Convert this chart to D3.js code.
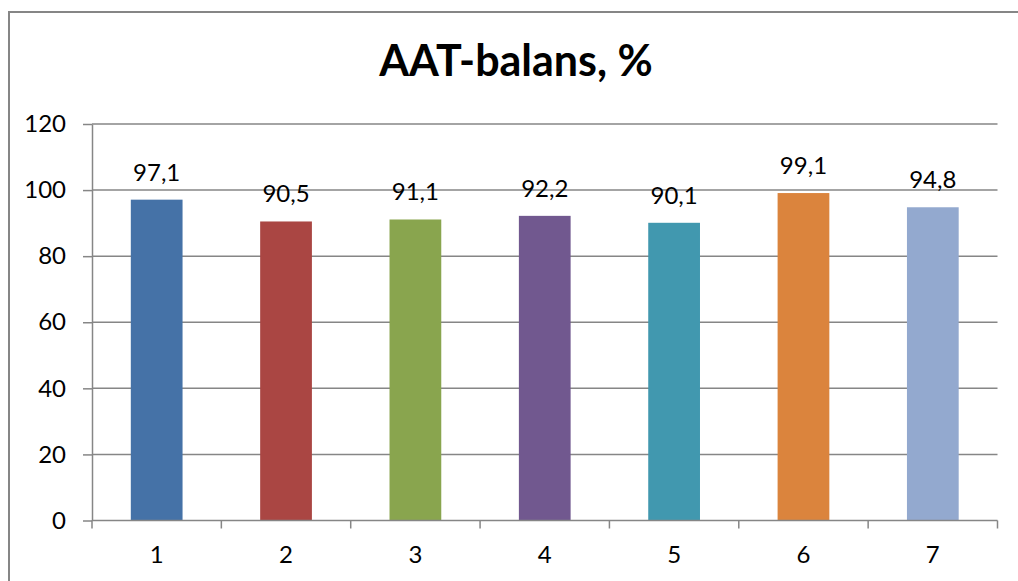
<!DOCTYPE html>
<html>
<head>
<meta charset="utf-8">
<script src="https://cdn.jsdelivr.net/npm/d3@7"></script>
<style>
  html, body { margin: 0; padding: 0; background: #fff; }
  svg { display: block; font-family: Lato, "Noto Sans", sans-serif; }
</style>
</head>
<body>
<svg id="chart" width="1018" height="581"></svg>
<script>
// Category labels, values and bar colours
const categories = ["1", "2", "3", "4", "5", "6", "7"];
const values = [97.1, 90.5, 91.1, 92.2, 90.1, 99.1, 94.8];
const valueLabels = ["97,1", "90,5", "91,1", "92,2", "90,1", "99,1", "94,8"];
const colors = ["#4572A7", "#AA4643", "#89A54E", "#71588F", "#4198AF", "#DB843D", "#93A9CF"];
const yTicks = [0, 20, 40, 60, 80, 100, 120];
const title = "AAT-balans, %";

const svg = d3.select("#chart");
const gridColor = "#868686";
const labelSize = 24;

// Outer chart frame
svg.append("rect")
  .attr("x", 9).attr("y", 12)
  .attr("width", 1030).attr("height", 600)
  .attr("fill", "none")
  .attr("stroke", gridColor)
  .attr("stroke-width", 2);

const plot = { left: 92, right: 997.5, top: 124, bottom: 520.5 };

const x = d3.scaleBand()
  .domain(categories)
  .range([plot.left, plot.right])
  .paddingInner(0.6)
  .paddingOuter(0.3);

const y = d3.scaleLinear()
  .domain([0, 120])
  .range([plot.bottom, plot.top]);

// Title
svg.append("text")
  .attr("x", 516).attr("y", 76)
  .attr("text-anchor", "middle")
  .attr("font-weight", "bold")
  .attr("font-size", 43)
  .attr("fill", "#000")
  .text(title);

// Horizontal gridlines
svg.append("g")
  .selectAll("line")
  .data(yTicks.filter(d => d > 0))
  .join("line")
  .attr("x1", plot.left).attr("x2", plot.right)
  .attr("y1", d => y(d)).attr("y2", d => y(d))
  .attr("stroke", gridColor)
  .attr("stroke-width", 1.5);

// Y axis
const yAxis = svg.append("g")
  .attr("transform", `translate(${plot.left},0)`)
  .call(d3.axisLeft(y).tickValues(yTicks).tickSize(9).tickPadding(17).tickSizeOuter(0));
yAxis.select(".domain").attr("stroke", gridColor).attr("stroke-width", 1.5);
yAxis.selectAll(".tick line").attr("stroke", gridColor).attr("stroke-width", 1.5);
yAxis.selectAll(".tick text")
  .attr("font-size", labelSize)
  .attr("font-family", "Lato, 'Noto Sans', sans-serif")
  .attr("fill", "#000");

// Bars
svg.append("g")
  .selectAll("rect")
  .data(values)
  .join("rect")
  .attr("x", (d, i) => x(categories[i]))
  .attr("y", d => y(d))
  .attr("width", x.bandwidth())
  .attr("height", d => y(0) - y(d))
  .attr("fill", (d, i) => colors[i]);

// Value labels above the bars
svg.append("g")
  .selectAll("text")
  .data(values)
  .join("text")
  .attr("x", (d, i) => x(categories[i]) + x.bandwidth() / 2)
  .attr("y", d => y(d) - 19)
  .attr("text-anchor", "middle")
  .attr("font-size", labelSize)
  .attr("fill", "#000")
  .text((d, i) => valueLabels[i]);

// X axis with ticks between categories
const xAxisG = svg.append("g");
xAxisG.append("line")
  .attr("x1", plot.left).attr("x2", plot.right)
  .attr("y1", y(0)).attr("y2", y(0))
  .attr("stroke", gridColor).attr("stroke-width", 1.5);
const boundaries = d3.range(categories.length + 1).map(i => plot.left + i * (plot.right - plot.left) / categories.length);
xAxisG.selectAll("line.tick")
  .data(boundaries)
  .join("line")
  .attr("class", "tick")
  .attr("x1", d => d).attr("x2", d => d)
  .attr("y1", y(0)).attr("y2", y(0) + 8)
  .attr("stroke", gridColor).attr("stroke-width", 1.5);
xAxisG.selectAll("text")
  .data(categories)
  .join("text")
  .attr("x", d => x(d) + x.bandwidth() / 2)
  .attr("y", 563)
  .attr("text-anchor", "middle")
  .attr("font-size", labelSize)
  .attr("fill", "#000")
  .text(d => d);
</script>
</body>
</html>
